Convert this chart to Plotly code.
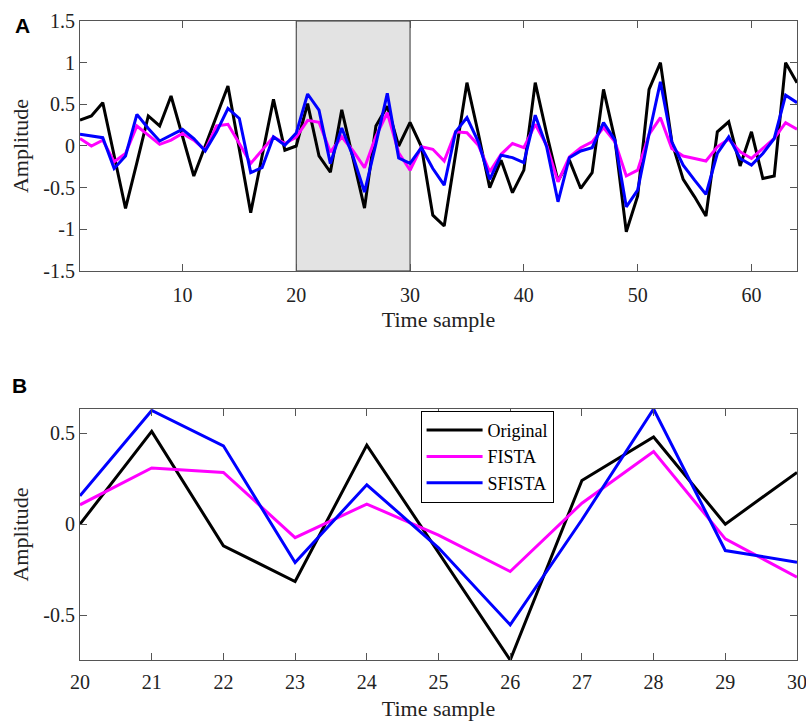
import plotly.graph_objects as go

# ---------------- data ----------------
samples = list(range(1, 65))

original = [0.31, 0.36, 0.52, -0.12, -0.75, -0.20, 0.36, 0.24, 0.60, 0.12,
            -0.36, 0.00, 0.36, 0.72, -0.04, -0.80, -0.12, 0.56, -0.05, 0.00,
            0.509, -0.119, -0.315, 0.434, -0.156, -0.746, 0.24, 0.478, 0.00, 0.284,
            -0.01, -0.83, -0.96, -0.08, 0.76, 0.15, -0.50, -0.17, -0.56, -0.29,
            0.76, 0.15, -0.42, -0.17, -0.51, -0.32, 0.68, 0.08, -1.03, -0.60,
            0.68, 1.00, 0.05, -0.40, -0.61, -0.84, 0.17, 0.29, -0.24, 0.17,
            -0.39, -0.36, 1.00, 0.76]

fista = [0.09, 0.00, 0.07, -0.19, -0.09, 0.24, 0.13, 0.02, 0.07, 0.15,
         0.07, -0.05, 0.24, 0.26, 0.03, -0.21, -0.05, 0.11, 0.03, 0.106,
         0.308, 0.284, -0.074, 0.11, -0.06, -0.26, 0.115, 0.399, -0.081, -0.291,
         -0.01, -0.04, -0.18, 0.17, 0.16, 0.01, -0.31, -0.10, 0.03, -0.02,
         0.26, 0.01, -0.43, -0.13, -0.02, 0.05, 0.22, 0.05, -0.36, -0.29,
         0.14, 0.34, -0.03, -0.12, -0.15, -0.18, -0.01, 0.08, -0.07, -0.15,
         -0.03, 0.09, 0.28, 0.20]

sfista = [0.14, 0.12, 0.10, -0.27, -0.12, 0.38, 0.21, 0.06, 0.13, 0.20,
          0.09, -0.06, 0.17, 0.45, 0.33, -0.32, -0.26, 0.11, 0.01, 0.155,
          0.624, 0.43, -0.211, 0.216, -0.13, -0.553, 0.024, 0.632, -0.145, -0.209,
          -0.02, -0.27, -0.47, 0.17, 0.34, 0.05, -0.40, -0.11, -0.14, -0.20,
          0.37, -0.01, -0.67, -0.14, -0.06, -0.02, 0.28, 0.07, -0.73, -0.53,
          0.14, 0.77, 0.05, -0.23, -0.41, -0.58, -0.09, 0.11, -0.15, -0.23,
          -0.09, 0.09, 0.61, 0.52]

series_names = ["Original", "FISTA", "SFISTA"]
series_colors = ["#000000", "#ff00ff", "#0000ff"]

zoom_start, zoom_end = 20, 30

a_xticks = [10, 20, 30, 40, 50, 60]
a_yticks = [-1.5, -1, -0.5, 0, 0.5, 1, 1.5]
a_yticktext = ["-1.5", "-1", "-0.5", "0", "0.5", "1", "1.5"]
b_xticks = list(range(20, 31))
b_yticks = [-0.5, 0, 0.5]
b_yticktext = ["-0.5", "0", "0.5"]

# ---------------- figure ----------------
fig = go.Figure()
all_series = [original, fista, sfista]

for name, col, vals in zip(series_names, series_colors, all_series):
    fig.add_trace(go.Scatter(x=samples, y=vals, mode="lines", name=name,
                             line=dict(color=col, width=3), showlegend=False,
                             xaxis="x", yaxis="y"))

zi = [i for i, s in enumerate(samples) if zoom_start <= s <= zoom_end]
for name, col, vals in zip(series_names, series_colors, all_series):
    fig.add_trace(go.Scatter(x=[samples[i] for i in zi], y=[vals[i] for i in zi],
                             mode="lines", name=name,
                             line=dict(color=col, width=3), showlegend=True,
                             xaxis="x2", yaxis="y2"))

b_min = min(min(v[i] for i in zi) for v in all_series)
b_max = max(max(v[i] for i in zi) for v in all_series)

serif = "Liberation Serif, Times New Roman, serif"
tickfont = dict(family=serif, size=20, color="#222222")
titlefont = dict(family=serif, size=22, color="#222222")

axis_common = dict(showline=True, linecolor="#555555", linewidth=1, mirror="ticks",
                   ticks="inside", ticklen=7, tickcolor="#555555", tickwidth=1,
                   showgrid=False, zeroline=False, tickfont=tickfont,
                   ticklabeloverflow="allow", automargin=False)

fig.update_layout(
    width=806, height=722,
    margin=dict(l=80, r=9, t=21, b=62),
    paper_bgcolor="white", plot_bgcolor="white",
    xaxis=dict(domain=[0, 1], anchor="y", range=[1, 64], tickvals=a_xticks,
               ticklabelstandoff=6,
               title=dict(text="Time sample", font=titlefont, standoff=6), **axis_common),
    yaxis=dict(domain=[0.6088, 1], anchor="x", range=[-1.5, 1.5], tickvals=a_yticks,
               ticktext=a_yticktext,
               title=dict(text="Amplitude", font=titlefont, standoff=8), **axis_common),
    xaxis2=dict(domain=[0, 1], anchor="y2", range=[zoom_start, zoom_end], tickvals=b_xticks,
                ticklabelstandoff=4,
                title=dict(text="Time sample", font=titlefont, standoff=8), **axis_common),
    yaxis2=dict(domain=[0, 0.3928], anchor="x2", range=[b_min, b_max], tickvals=b_yticks,
                ticktext=b_yticktext,
                title=dict(text="Amplitude", font=titlefont, standoff=8), **axis_common),
    legend=dict(x=0.475, y=0.390, xanchor="left", yanchor="top",
                bgcolor="white", bordercolor="#000000", borderwidth=1,
                font=dict(family=serif, size=18, color="#000000"),
                itemwidth=56, tracegroupgap=0),
    shapes=[dict(type="rect", xref="x", yref="y", x0=zoom_start, x1=zoom_end,
                 y0=-1.5, y1=1.5, fillcolor="#e3e3e3",
                 line=dict(color="#333333", width=1), layer="below")],
    annotations=[
        dict(text="<b>A</b>", xref="paper", yref="paper", x=-0.093, y=0.993,
             xanchor="left", yanchor="middle", showarrow=False,
             font=dict(family="Liberation Sans, Arial, sans-serif", size=21, color="#000000")),
        dict(text="<b>B</b>", xref="paper", yref="paper", x=-0.098, y=0.430,
             xanchor="left", yanchor="middle", showarrow=False,
             font=dict(family="Liberation Sans, Arial, sans-serif", size=21, color="#000000")),
    ],
)

fig.write_html("out.html")
